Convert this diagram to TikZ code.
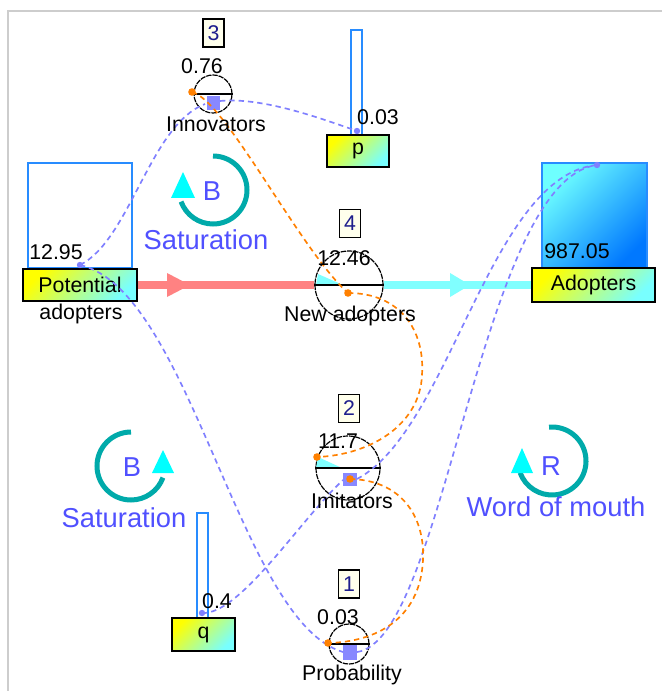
\documentclass[tikz,border=0pt]{standalone}
\usepackage{fontspec}
\setmainfont{Liberation Sans}
\definecolor{linkblue}{RGB}{128,128,255}
\definecolor{linkorange}{RGB}{255,128,0}
\definecolor{levelblue}{RGB}{40,140,255}
\definecolor{loopteal}{RGB}{0,170,170}
\definecolor{loopcyan}{RGB}{0,255,255}
\definecolor{looptext}{RGB}{80,80,255}
\definecolor{pipered}{RGB}{255,130,130}
\definecolor{pipecyan}{RGB}{128,255,255}
\definecolor{numblue}{RGB}{30,30,140}
\definecolor{ivory}{RGB}{255,255,236}
\definecolor{framegray}{RGB}{205,205,205}
\definecolor{gy}{RGB}{255,255,0}
\definecolor{gc}{RGB}{120,255,255}
\definecolor{adtop}{RGB}{110,255,255}
\definecolor{adbot}{RGB}{0,120,255}
\definecolor{sq}{RGB}{136,136,255}
\begin{document}
\begin{tikzpicture}[x=0.75pt,y=-0.75pt,
  lbl/.style={font=\fontsize{16}{18}\selectfont, inner sep=0pt, text=black},
  looplbl/.style={font=\fontsize{20.5}{24}\selectfont, inner sep=0pt, text=looptext},
  numbox/.style={draw=black, line width=1.1pt, fill=ivory, minimum width=16pt, minimum height=21pt, inner sep=0pt, font=\fontsize{16}{18}\selectfont, text=numblue},
  stockbox/.style={draw=black, line width=1.4pt, inner sep=0pt, font=\fontsize{16}{18}\selectfont, top color=gy, bottom color=gc, shading angle=45},
  levelrect/.style={draw=levelblue, line width=1.3pt},
  aux/.style={circle, draw=black, line width=0.9pt, inner sep=0pt, dash pattern=on 4pt off 0.7pt},
  bluelink/.style={draw=linkblue, line width=1.25pt, dash pattern=on 4pt off 3pt},
  orangelink/.style={draw=linkorange, line width=1.25pt, dash pattern=on 4pt off 3pt},
  loopline/.style={draw=loopteal, line width=3.75pt},
  loophead/.style={fill=loopcyan},
  pipe/.style={line width=6pt},
]
\fill[white] (0,0) rectangle (662,691);
\useasboundingbox (0,0) rectangle (662,691);
% frame
\draw[framegray, line width=1.2pt] (8,691) -- (8,11) -- (662,11);

% level rectangles
\draw[levelrect, fill=white] (28,163) rectangle (132,268);
\draw[levelrect, top color=adtop, bottom color=adbot, shading angle=45] (542,163) rectangle (647,268);
\draw[levelrect, fill=white] (351,30) rectangle (362,135);
\draw[levelrect, fill=white] (197,513) rectangle (208,618);

% stock / constant boxes
\node[stockbox, minimum width=85.5pt, minimum height=24pt] (pa) at (80,285) {Potential};
\node[stockbox, minimum width=92.25pt, minimum height=25.5pt] (ad) at (593.5,285) {Adopters};
\node[stockbox, minimum width=46.5pt, minimum height=24pt] (pbox) at (358,151) {p};
\node[stockbox, minimum width=47.25pt, minimum height=24.75pt] (qbox) at (203.5,634.5) {q};

% auxiliaries
\node[aux, minimum size=28.5pt] (innov) at (213,94) {};
\node[aux, minimum size=51pt] (newad) at (349,285) {};
\node[aux, minimum size=48pt] (imit) at (348,468) {};
\node[aux, minimum size=30pt] (prob) at (349,644) {};

% pipes
\draw[pipered, pipe] (pa.east) -- (newad.west);
\fill[pipered] (167,273) -- (190,285) -- (167,297) -- cycle;
\draw[pipecyan, pipe] (newad.east) -- (ad.west);
\fill[pipecyan] (450,273) -- (470,285) -- (450,297) -- cycle;

% cyan wedges
\fill[pipecyan] (316,285) -- (343,285) -- (318,274) -- cycle;
\fill[pipecyan] (316,468) -- (342,468) -- (318,457) -- cycle;

% horizontal lines in auxiliaries
\draw[line width=1.3pt] (innov.west) -- (innov.east);
\draw[line width=1.3pt] (newad.west) -- (newad.east);
\draw[line width=1.3pt] (imit.west) -- (imit.east);
\draw[line width=1.3pt] (prob.west) -- (prob.east);

% squares
\fill[sq] (207,96) rectangle (220,110);
\fill[sq] (343,473) rectangle (357,486);
\fill[sq] (343,645) rectangle (357,660);

% link end points
\coordinate (padot) at (80,265);
\coordinate (addot) at (597,165);
\coordinate (pdot) at (357,131);
\coordinate (qdot) at (202,613);
\coordinate (innovL) at (205,104);
\coordinate (innovR) at (220,101);
\coordinate (imL) at (343,480);
\coordinate (imR) at (357,479);
\coordinate (prL) at (343,652);
\coordinate (prR) at (357,652);
\coordinate (iod) at (192,92);
\coordinate (nod) at (348,293);
\coordinate (imod) at (317,457);
\coordinate (imod2) at (350,479);
\coordinate (pod) at (328,643);

% blue links
\draw[bluelink] (padot) .. controls (130,240) and (150,125) .. (innovL);
\draw[bluelink] (innovR) .. controls (262,97) and (320,118) .. (pdot);
\draw[bluelink] (padot) .. controls (190,290) and (240,622) .. (prL);
\draw[bluelink] (imR) .. controls (450,430) and (490,175) .. (addot);
\draw[bluelink] (prR) .. controls (445,640) and (480,180) .. (addot);
\draw[bluelink] (qdot) .. controls (240,615) and (300,520) .. (imL);

% orange links
\draw[orangelink] (iod) .. controls (225,100) and (300,250) .. (nod);
\draw[orangelink] (nod) .. controls (400,293) and (425,330) .. (422,375) .. controls (420,425) and (370,455) .. (imod);
\draw[orangelink] (imod2) .. controls (400,480) and (425,515) .. (423,560) .. controls (420,620) and (375,642) .. (pod);

% dots
\foreach \c in {padot,addot,pdot,qdot} \fill[linkblue] (\c) circle[radius=3.2];
\foreach \c in {iod,nod,imod,imod2,pod} \fill[linkorange] (\c) circle[radius=3.8];

% loops
\draw[loopline] (213,190) ++(-90:34) arc[start angle=-90, end angle=160, radius=34];
\fill[loophead] (183,172) -- (195,198) -- (171,198) -- cycle;
\draw[loopline] (131,466) ++(-90:34) arc[start angle=-90, end angle=-340, radius=34];
\fill[loophead] (163,450) -- (174,473) -- (152,473) -- cycle;
\draw[loopline] (552,461) ++(-95:34) arc[start angle=-95, end angle=160, radius=34];
\fill[loophead] (522,448) -- (533,473) -- (511,473) -- cycle;

\node[looplbl] (b1) at (212,191) {B};
\node[looplbl] (sat1) at (206,240) {Saturation};
\node[looplbl] (b2) at (132,467) {B};
\node[looplbl] (sat2) at (124,518) {Saturation};
\node[looplbl] (r1) at (551,466) {R};
\node[looplbl] (wom) at (556,507) {Word of mouth};

% number boxes
\node[numbox] (n3) at (213.5,33) {3};
\node[numbox] (n4) at (350,223.5) {4};
\node[numbox] (n2) at (349,408.5) {2};
\node[numbox] (n1) at (349,584) {1};

% values and labels
\node[lbl] (pa2) at (81,314) {adopters};
\node[lbl] (pav) at (56,252) {12.95};
\node[lbl] (adv) at (577,251) {987.05};
\node[lbl] (pv) at (378,117) {0.03};
\node[lbl] (qv) at (217,601) {0.4};
\node[lbl] (iv) at (202,66) {0.76};
\node[lbl] (nv) at (344,258) {12.46};
\node[lbl] (imv) at (338,441) {11.7};
\node[lbl] (prv) at (338,617) {0.03};
\node[lbl] (il) at (216,124) {Innovators};
\node[lbl] (nl) at (350,316) {New adopters};
\node[lbl] (iml) at (352,501) {Imitators};
\node[lbl] (pl) at (352,675) {Probability};
\end{tikzpicture}
\end{document}
